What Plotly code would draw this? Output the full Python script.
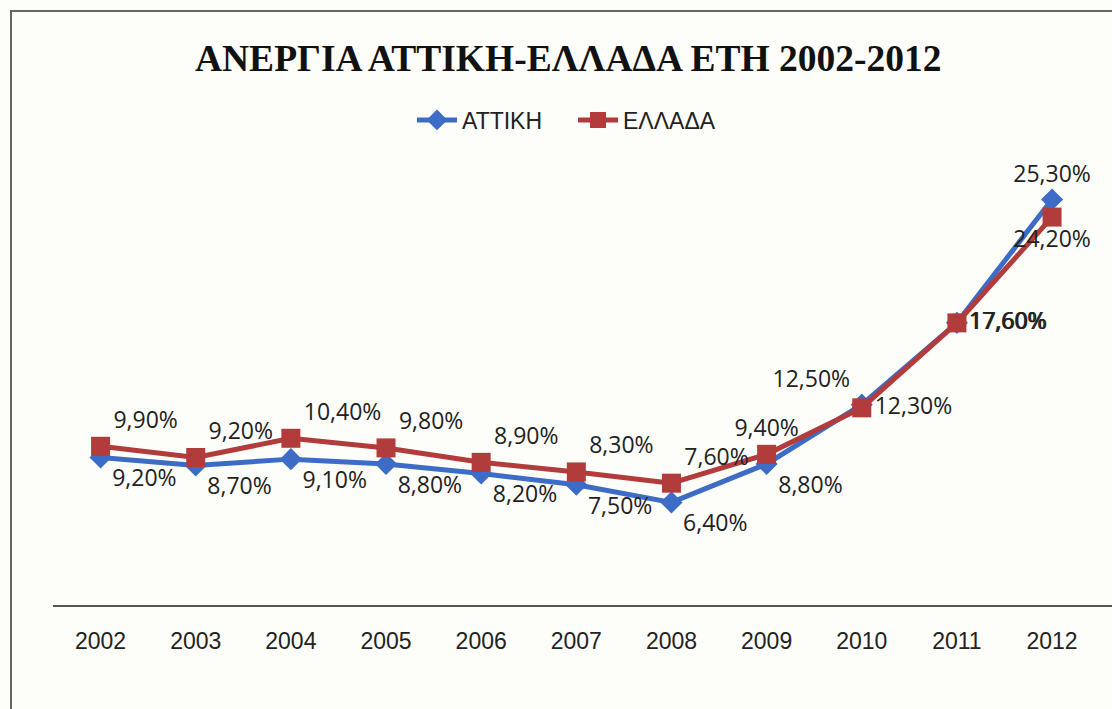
import plotly.graph_objects as go

years = ["2002", "2003", "2004", "2005", "2006", "2007", "2008", "2009", "2010", "2011", "2012"]
attiki = [9.2, 8.7, 9.1, 8.8, 8.2, 7.5, 6.4, 8.8, 12.5, 17.6, 25.3]
ellada = [9.9, 9.2, 10.4, 9.8, 8.9, 8.3, 7.6, 9.4, 12.3, 17.6, 24.2]

attiki_pos = ["bottom right"] * 8 + ["top left", "middle right", "top center"]
ellada_pos = ["top right"] * 7 + ["top center", "middle right", "middle right", "bottom center"]

def fmt(v):
    return f"{v:.2f}".replace(".", ",") + "%"

BLUE = "#3C6CC6"
RED = "#B23B3B"
label_font = dict(family="Open Sans, Noto Sans, sans-serif", size=23, color="#222")

# layout geometry (pixels)
W, H = 1112, 709
L, R, T, B = 53, 0, 60, 104
PLOT_H = H - T - B
PX_PER_UNIT = 16.03
YMAX = PLOT_H / PX_PER_UNIT

fig = go.Figure()
fig.add_trace(go.Scatter(
    x=years, y=attiki, name="ΑΤΤΙΚΗ", mode="lines+markers+text",
    line=dict(color=BLUE, width=5),
    marker=dict(symbol="diamond", size=17, color=BLUE),
    text=[fmt(v) for v in attiki], textposition=attiki_pos, textfont=label_font,
    cliponaxis=False,
))
fig.add_trace(go.Scatter(
    x=years, y=ellada, name="ΕΛΛΑΔΑ", mode="lines+markers+text",
    line=dict(color=RED, width=5),
    marker=dict(symbol="square", size=19, color=RED),
    text=[fmt(v) for v in ellada], textposition=ellada_pos, textfont=label_font,
    cliponaxis=False,
))

fig.update_layout(
    width=W, height=H, autosize=False,
    margin=dict(l=L, r=R, t=T, b=B),
    paper_bgcolor="#fdfdf9", plot_bgcolor="#fdfdf9",
    title=dict(
        text="<b>ΑΝΕΡΓΙΑ ΑΤΤΙΚΗ-ΕΛΛΑΔΑ ΕΤΗ 2002-2012</b>",
        font=dict(family="Liberation Serif, Times New Roman, serif", size=37.5, color="#111"),
        x=0.511, xanchor="center", xref="container",
        y=1 - 58 / H, yanchor="middle", yref="container",
    ),
    legend=dict(
        orientation="h", xref="paper", yref="paper",
        x=(412 - L) / (W - L - R), xanchor="left",
        y=(H - B - 120) / PLOT_H, yanchor="middle",
        entrywidth=106, entrywidthmode="pixels", itemwidth=40,
        font=dict(family="Liberation Sans Narrow, Liberation Sans, sans-serif", size=23, color="#222"),
        bgcolor="rgba(0,0,0,0)",
    ),
    xaxis=dict(
        type="category", range=[-0.5, 10.63], showgrid=False, zeroline=False,
        showline=True, linecolor="#555", linewidth=2, ticks="",
        tickfont=dict(family="Liberation Sans Narrow, Liberation Sans, sans-serif", size=23, color="#222"),
        ticklabelstandoff=14,
    ),
    yaxis=dict(range=[0, YMAX], visible=False),
    shapes=[dict(
        type="rect", xref="paper", yref="paper",
        x0=(11 - L) / (W - L - R), x1=1.05,
        y0=(H - B - 11) / PLOT_H, y1=-0.3,
        line=dict(color="#666", width=2), fillcolor="rgba(0,0,0,0)", layer="below",
    )],
    showlegend=True,
)

fig.write_html("out.html", config={"displayModeBar": False},
               post_script="document.body.style.margin='0';")
